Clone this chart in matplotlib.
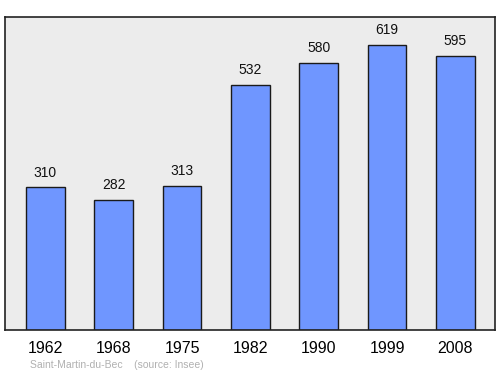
import matplotlib
matplotlib.use("Agg")
import matplotlib.pyplot as plt

# population data
years = ["1962", "1968", "1975", "1982", "1990", "1999", "2008"]
population = [310, 282, 313, 532, 580, 619, 595]

plt.rcParams["font.family"] = ["Liberation Sans", "DejaVu Sans"]

fig = plt.figure(figsize=(5.0, 3.74), dpi=100)
ax = fig.add_axes([0.01, 0.118, 0.98, 0.837])
ax.set_facecolor("#ececec")

x = range(len(years))
ax.bar(x, population, width=0.57, color="#6f96ff", edgecolor="#1a1a1a", linewidth=1.0)

for xi, v in zip(x, population):
    ax.annotate(str(v), (xi, v), xytext=(0, 5.5), textcoords="offset points",
                ha="center", va="bottom", fontsize=10, color="#111111")

ax.set_xlim(-0.59, 6.58)
ax.set_ylim(0, 680)
ax.set_xticks(list(x))
ax.set_xticklabels(years, fontsize=11.5)
ax.tick_params(axis="x", length=0, pad=8)
ax.set_yticks([])
for s in ax.spines.values():
    s.set_color("#222222")
    s.set_linewidth(1.2)

fig.text(0.06, 0.01, "Saint-Martin-du-Bec    (source: Insee)", fontsize=7.5,
         color="#b0b0b0", ha="left", va="bottom")

fig.savefig("out.png", dpi=100)
